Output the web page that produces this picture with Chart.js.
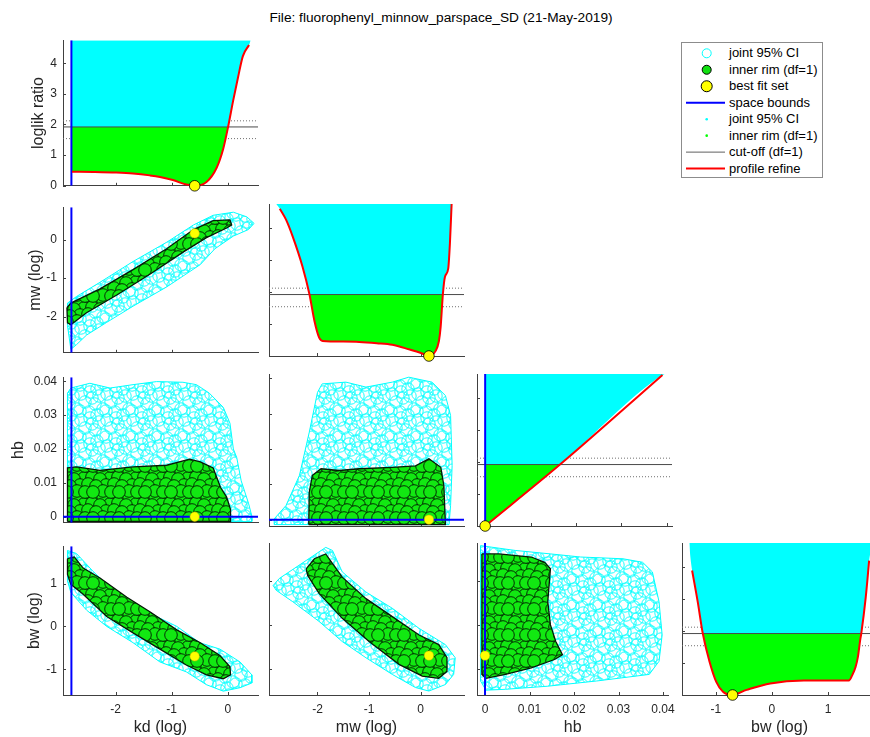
<!DOCTYPE html>
<html><head><meta charset="utf-8">
<script src="https://cdn.jsdelivr.net/npm/chart.js@4.4.1/dist/chart.umd.min.js"></script>
<style>
html,body{margin:0;padding:0;background:#fff;width:870px;height:737px;overflow:hidden;position:relative;font-family:'Liberation Sans',Arial,Helvetica,sans-serif}
canvas.p{position:absolute}
#title{position:absolute;top:10px;left:0;width:882px;text-align:center;font-size:13.7px;line-height:16px;color:#000;white-space:nowrap}
#legend{position:absolute;left:681px;top:42px;width:140px;height:134px;border:1px solid #8c8c8c;background:#fff}
.li{position:absolute;left:47px;font-size:13px;line-height:16px;color:#000;white-space:nowrap}
</style></head><body>
<div id="title"></div>
<div id="legend"><svg id="legsvg" width="140" height="134" style="position:absolute;left:0;top:0"></svg></div>
<script>
// ---------------- data ----------------
const chartTitle = 'File: fluorophenyl_minnow_parspace_SD (21-May-2019)';
const paramNames = ['kd', 'mw', 'hb', 'bw'];
const axisTitles = ['kd (log)', 'mw (log)', 'hb', 'bw (log)'];
const diagTitle = 'loglik ratio';
const paramMin = [-2.94, -2.94, -0.0018, -1.60];
const paramMax = [0.54, 0.84, 0.0412, 1.87];
const paramTicks = [[-2, -1, 0], [-2, -1, 0], [0, 0.01, 0.02, 0.03, 0.04], [-1, 0, 1]];
const bestFit = [-0.59, 0.16, 0.0, -0.70];
const bestLoglik = 0;
const lowerBound = [-2.79, null, 0.0, null];
const loglikRange = [0, 4.75];
const loglikTicks = [0, 1, 2, 3, 4];
const cutOff = 1.92;
const cutOffBand = [1.54, 2.12];
const legendLabels = ['joint 95% CI', 'inner rim (df=1)', 'best fit set', 'space bounds',
                      'joint 95% CI', 'inner rim (df=1)', 'cut-off (df=1)', 'profile refine'];

// profile-likelihood curves (x = parameter, y = loglik ratio)
const profileKd = [[-2.78,0.46],[-2.40,0.45],[-1.99,0.43],[-1.69,0.40],[-1.39,0.34],[-1.21,0.29],[-0.98,0.19],[-0.74,0.04],[-0.56,0.00],[-0.38,0.12],[-0.20,0.58],[-0.08,1.21],[0.006,1.92],[0.096,2.77],[0.185,3.55],[0.27,4.23],[0.38,4.59]];
const profileMw = [[-2.73,4.60],[-2.61,4.26],[-2.48,3.73],[-2.29,2.79],[-2.155,1.92],[-2.06,1.10],[-1.97,0.58],[-1.90,0.47],[-1.50,0.45],[-1.19,0.44],[-0.85,0.40],[-0.55,0.35],[-0.23,0.21],[0.03,0.08],[0.16,0.00],[0.29,0.16],[0.354,0.47],[0.387,0.90],[0.43,1.92],[0.47,2.47],[0.534,2.73],[0.567,3.52],[0.60,4.75]];
const profileHb = [[0,0],[0.0165,1.92],[0.0391,4.72]];
const profileBw = [[-1.42,3.89],[-1.32,2.91],[-1.23,1.92],[-1.11,1.04],[-0.99,0.41],[-0.87,0.10],[-0.72,0.00],[-0.45,0.16],[-0.03,0.36],[0.57,0.45],[1.00,0.45],[1.37,0.45],[1.43,0.62],[1.49,0.88],[1.53,1.19],[1.57,1.71],[1.59,1.92],[1.67,3.06],[1.73,4.20]];

// lower edge of the dense cyan cloud in the profile panels
const cyanEdgeKd = [[-2.79,0.46],[-2.40,0.45],[-1.99,0.43],[-1.69,0.40],[-1.39,0.34],[-1.21,0.29],[-0.98,0.19],[-0.74,0.04],[-0.56,0.00],[-0.38,0.12],[-0.20,0.58],[-0.08,1.21],[0.006,1.92],[0.096,2.77],[0.185,3.55],[0.27,4.23],[0.38,4.59],[0.41,4.75]];
const cyanEdgeMw = [[-2.80,4.75],[-2.73,4.60],[-2.61,4.26],[-2.48,3.73],[-2.29,2.79],[-2.155,1.92],[-2.06,1.10],[-1.97,0.58],[-1.90,0.47],[-1.50,0.45],[-1.19,0.44],[-0.85,0.40],[-0.55,0.35],[-0.23,0.21],[0.03,0.08],[0.16,0.00],[0.29,0.16],[0.354,0.47],[0.387,0.90],[0.43,1.92],[0.47,2.47],[0.534,2.73],[0.567,3.52],[0.60,4.75]];
const cyanEdgeHb = [[0,0],[0.0165,1.92],[0.0391,4.72],[0.0396,4.75]];
const cyanEdgeBw = [[-1.47,4.75],[-1.45,4.30],[-1.42,3.89],[-1.32,2.91],[-1.23,1.92],[-1.11,1.04],[-0.99,0.41],[-0.87,0.10],[-0.72,0.00],[-0.45,0.16],[-0.03,0.36],[0.57,0.45],[1.00,0.45],[1.37,0.45],[1.43,0.62],[1.49,0.88],[1.53,1.19],[1.57,1.71],[1.59,1.92],[1.67,3.06],[1.73,4.20],[1.80,4.75]];

// outlines of the joint 95% CI (cyan) and inner rim (green) clouds, [x, y]
const cyanMwKd = [[-2.80,-2.85],[-2.86,-2.23],[-2.86,-1.65],[-2.70,-1.48],[-2.28,-1.11],[-1.69,-0.57],[-1.09,-0.07],[-0.61,0.38],[-0.26,0.63],[0.10,0.71],[0.34,0.59],[0.47,0.42],[0.37,0.26],[0.10,0.09],[-0.23,-0.24],[-0.49,-0.65],[-1.09,-1.23],[-1.69,-1.73],[-2.16,-2.15],[-2.52,-2.48],[-2.70,-2.73]];
const greenMwKd = [[-2.87,-1.77],[-2.80,-1.65],[-2.28,-1.28],[-1.69,-0.78],[-1.09,-0.24],[-0.61,0.26],[-0.26,0.49],[0.04,0.51],[0.07,0.38],[-0.02,0.30],[-0.38,0.05],[-0.79,-0.32],[-1.39,-0.90],[-1.98,-1.44],[-2.52,-1.90],[-2.80,-2.21],[-2.86,-2.16]];
const cyanHbKd = [[-2.86,-0.0014],[-2.86,0.0365],[-2.80,0.0380],[-2.46,0.0394],[-2.10,0.0380],[-1.69,0.0390],[-1.27,0.0399],[-0.80,0.0397],[-0.56,0.0390],[-0.33,0.0365],[-0.08,0.0323],[0.04,0.0276],[0.10,0.0200],[0.16,0.0175],[0.24,0.0106],[0.37,0.0040],[0.43,0.0002],[0.43,-0.0014]];
const greenHbKd = [[-2.86,-0.0014],[-2.86,0.0144],[-2.70,0.0147],[-2.28,0.0137],[-1.69,0.0147],[-1.09,0.0152],[-0.68,0.0170],[-0.49,0.0162],[-0.26,0.0144],[-0.13,0.0087],[-0.02,0.0058],[0.05,0.0021],[0.05,-0.0014]];
const cyanBwKd = [[-2.86,1.77],[-2.70,1.70],[-2.40,1.28],[-2.04,0.83],[-1.69,0.57],[-1.27,0.23],[-0.91,0.00],[-0.50,-0.38],[-0.14,-0.53],[0.22,-0.83],[0.43,-1.13],[0.43,-1.32],[0.22,-1.43],[-0.08,-1.51],[-0.38,-1.36],[-0.74,-1.06],[-1.21,-0.83],[-1.69,-0.38],[-2.16,0.00],[-2.52,0.38],[-2.80,0.79],[-2.86,1.06]];
const greenBwKd = [[-2.86,1.58],[-2.74,1.62],[-2.58,1.36],[-2.28,1.13],[-1.80,0.68],[-1.39,0.34],[-0.91,-0.08],[-0.49,-0.38],[-0.14,-0.68],[0.04,-0.94],[0.05,-1.13],[-0.08,-1.22],[-0.38,-1.13],[-0.74,-0.90],[-1.21,-0.53],[-1.69,-0.15],[-2.16,0.23],[-2.58,0.75],[-2.80,0.98],[-2.86,1.21]];
const cyanHbMw = [[-2.84,-0.0014],[-2.84,0.0002],[-2.61,0.0040],[-2.35,0.0125],[-2.16,0.0247],[-2.00,0.0360],[-1.91,0.0384],[-1.45,0.0389],[-1.06,0.0375],[-0.55,0.0389],[-0.23,0.0403],[0.22,0.0389],[0.48,0.0351],[0.58,0.0295],[0.61,0.0153],[0.58,0.0040],[0.55,-0.0014]];
const greenHbMw = [[-2.17,-0.0014],[-2.16,0.0077],[-2.10,0.0125],[-1.93,0.0144],[-1.58,0.0139],[-1.19,0.0144],[-0.55,0.0148],[-0.10,0.0152],[0.16,0.0172],[0.39,0.0148],[0.45,0.0096],[0.48,-0.0014]];
const cyanBwMw = [[-2.86,0.90],[-2.74,1.06],[-2.22,1.47],[-1.84,1.77],[-1.71,1.70],[-1.52,1.21],[-1.06,0.75],[-0.55,0.38],[-0.03,-0.08],[0.48,-0.45],[0.67,-0.75],[0.64,-1.13],[0.48,-1.36],[0.16,-1.51],[-0.10,-1.43],[-0.55,-1.13],[-1.06,-0.75],[-1.52,-0.38],[-1.97,0.08],[-2.48,0.53],[-2.80,0.79]];
const greenBwMw = [[-2.22,1.28],[-2.06,1.51],[-1.84,1.62],[-1.75,1.47],[-1.52,1.09],[-1.06,0.60],[-0.55,0.19],[-0.03,-0.23],[0.35,-0.45],[0.51,-0.75],[0.51,-1.06],[0.35,-1.22],[0.03,-1.17],[-0.42,-0.90],[-1.00,-0.38],[-1.52,0.15],[-1.97,0.72],[-2.19,1.13]];
const cyanBwHb = [[-0.0010,1.81],[0.0068,1.70],[0.0148,1.62],[0.0215,1.55],[0.0310,1.51],[0.0354,1.43],[0.0376,1.21],[0.0391,0.53],[0.0398,-0.23],[0.0391,-0.83],[0.0369,-1.13],[0.0251,-1.28],[0.0140,-1.40],[0.0046,-1.47],[0.0002,-1.49],[-0.0010,-1.28]];
const greenBwHb = [[-0.0007,1.62],[0.0031,1.62],[0.0104,1.55],[0.0134,1.43],[0.0147,1.28],[0.0141,0.53],[0.0147,0.00],[0.0159,-0.38],[0.0174,-0.68],[0.0156,-0.79],[0.0104,-0.98],[0.0046,-1.13],[0.0002,-1.22],[-0.0007,-1.13]];

// ---------------- wiring ----------------
const profiles = [profileKd, profileMw, profileHb, profileBw];
const cyanEdges = [cyanEdgeKd, cyanEdgeMw, cyanEdgeHb, cyanEdgeBw];
const cyanClouds = [[], [cyanMwKd], [cyanHbKd, cyanHbMw], [cyanBwKd, cyanBwMw, cyanBwHb]];
const greenClouds = [[], [greenMwKd], [greenHbKd, greenHbMw], [greenBwKd, greenBwMw, greenBwHb]];

// ---------------- layout / style ----------------
const FONT = "'Liberation Sans', Arial, Helvetica, sans-serif";
Chart.defaults.font.family = FONT;
Chart.defaults.animation = false;
const colLefts = [63, 269, 477, 682];
const rowTops = [37, 204, 374, 543];
const boxW = 195, boxH = 152;
const yTitleCenters = [38.3, 35.3, 19, 35];
const AXIS = '#404040', TXT = '#262626';
const CYAN = '#00ffff', GREEN = '#00ff00', BLUE = '#0000ff', RED = '#ff0000', YELLOW = '#ffff00';

document.getElementById('title').textContent = chartTitle;

// legend
(function () {
  const svg = document.getElementById('legsvg');
  const lg = document.getElementById('legend');
  const NS = 'http://www.w3.org/2000/svg';
  const icons = [
    ['circle', {r: 4.5, fill: 'none', stroke: CYAN, 'stroke-width': 1}],
    ['circle', {r: 4.5, fill: '#10e010', stroke: '#000', 'stroke-width': 1}],
    ['circle', {r: 5.5, fill: YELLOW, stroke: '#000', 'stroke-width': 1}],
    ['line', {stroke: BLUE, 'stroke-width': 2}],
    ['circle', {r: 1.3, fill: CYAN}],
    ['circle', {r: 1.3, fill: GREEN}],
    ['line', {stroke: '#606060', 'stroke-width': 1}],
    ['line', {stroke: RED, 'stroke-width': 2}]
  ];
  legendLabels.forEach((lab, i) => {
    const cy = 10.3 + 16.47 * i;
    const [tag, attrs] = icons[i];
    const el = document.createElementNS(NS, tag);
    if (tag === 'circle') { el.setAttribute('cx', 24.7); el.setAttribute('cy', cy); }
    else { el.setAttribute('x1', 4); el.setAttribute('x2', 43); el.setAttribute('y1', cy); el.setAttribute('y2', cy); }
    for (const k in attrs) el.setAttribute(k, attrs[k]);
    svg.appendChild(el);
    const d = document.createElement('div');
    d.className = 'li'; d.style.top = (cy - 8) + 'px'; d.textContent = lab;
    lg.appendChild(d);
  });
})();

function makeTile(S, centers, r, fill, stroke, lw, bg) {
  const c = document.createElement('canvas'); c.width = c.height = S;
  const g = c.getContext('2d');
  if (bg) { g.fillStyle = bg; g.fillRect(0, 0, S, S); }
  for (const [cx, cy] of centers) {
    for (const dx of [-S, 0, S]) for (const dy of [-S, 0, S]) {
      g.beginPath(); g.arc(cx + dx, cy + dy, r, 0, Math.PI * 2);
      if (fill) { g.fillStyle = fill; g.fill(); }
      g.strokeStyle = stroke; g.lineWidth = lw; g.stroke();
    }
  }
  return c;
}
const cyanTile = makeTile(26, [[3,4],[12,2],[21,6],[7,12],[17,14],[25,19],[2,21],[11,22],[19,25],[14,8]], 6.2, null, CYAN, 0.9, null);
const greenTile = makeTile(26, [[2,3],[10,1],[18,4],[25,2],[6,10],[14,9],[22,11],[2,17],[10,16],[18,18],[25,23],[7,24],[15,24]], 6.3, '#12e812', '#000', 0.8, '#0e4e0e');

const pts = arr => arr.map(([x, y]) => ({x, y}));
const closed = arr => pts(arr.concat([arr[0]]));

// polygon fill using the element positions Chart.js computed from the data
const polyFill = {
  id: 'polyFill',
  beforeDatasetDraw(chart, args) {
    const ds = chart.data.datasets[args.index];
    if (!ds.polyFill) return;
    const {ctx, chartArea: a} = chart;
    const els = args.meta.data;
    ctx.save();
    ctx.beginPath(); ctx.rect(a.left, a.top, a.right - a.left, a.bottom - a.top); ctx.clip();
    ctx.beginPath();
    els.forEach((p, i) => i ? ctx.lineTo(p.x, p.y) : ctx.moveTo(p.x, p.y));
    ctx.closePath();
    ctx.fillStyle = ds.polyFill;
    ctx.fill();
    ctx.restore();
  }
};
// MATLAB-style inward tick marks
const inTicks = {
  id: 'inTicks',
  beforeDatasetsDraw(chart) {
    const {ctx, chartArea: a, scales: {x, y}} = chart;
    ctx.save(); ctx.strokeStyle = AXIS; ctx.lineWidth = 1; ctx.beginPath();
    for (const t of x.ticks) { const px = Math.round(x.getPixelForValue(t.value)) + 0.5; ctx.moveTo(px, a.bottom); ctx.lineTo(px, a.bottom - 3); }
    for (const t of y.ticks) { const py = Math.round(y.getPixelForValue(t.value)) + 0.5; ctx.moveTo(a.left, py); ctx.lineTo(a.left + 3, py); }
    ctx.stroke(); ctx.restore();
  }
};

const fmt = v => String(Math.round(v * 10000) / 10000);
function axisCfg(isX, min, max, ticks, showLabels, title, titlePad, size) {
  return {
    type: 'linear', position: isX ? 'bottom' : 'left', min, max,
    afterBuildTicks: s => { s.ticks = ticks.map(v => ({value: v})); },
    afterFit: s => { if (isX) s.height = size; else s.width = size; },
    grid: {display: true, drawOnChartArea: false, drawTicks: false, color: 'rgba(0,0,0,0)'},
    border: {display: true, color: AXIS, width: 1},
    ticks: {display: showLabels, autoSkip: false, maxRotation: 0, minRotation: 0, padding: isX ? 7 : 6,
            color: TXT, font: {size: 12}, callback: v => fmt(v)},
    title: {display: !!title, text: title || '', color: TXT, font: {size: 16}, padding: titlePad || 0}
  };
}
const hline = (x0, x1, y) => pts([[x0, y], [x1, y]]);
const vline = (x, y0, y1) => pts([[x, y0], [x, y1]]);

function makePanel(r, c) {
  const L = c === 0 ? colLefts[0] : 10;
  const B = r === 3 ? 737 - (rowTops[3] + boxH) : 10;
  const T = 10, R = 10;
  const cv = document.createElement('canvas');
  cv.className = 'p';
  cv.width = L + boxW + R; cv.height = T + boxH + B;
  cv.style.left = (colLefts[c] - L) + 'px'; cv.style.top = (rowTops[r] - T) + 'px';
  cv.style.width = cv.width + 'px'; cv.style.height = cv.height + 'px';
  document.body.appendChild(cv);
  const g = cv.getContext('2d');
  const datasets = [];
  const xMin = paramMin[c], xMax = paramMax[c];
  let yMin, yMax, yTicks;
  const line = (data, color, width, order, extra) => Object.assign({data, showLine: true, borderColor: color, borderWidth: width, pointRadius: 0, fill: false, order}, extra || {});
  if (r === c) {
    [yMin, yMax] = loglikRange; yTicks = loglikTicks;
    cutOffBand.forEach(v => datasets.push(line(hline(xMin, xMax, v), '#707070', 1, 20, {borderDash: [1, 2]})));
    datasets.push(line(pts(cyanEdges[c]), 'rgba(0,0,0,0)', 0, 19, {fill: 'end', backgroundColor: CYAN, cubicInterpolationMode: 'monotone'}));
    datasets.push(line(pts(profiles[c].filter(q => q[1] <= cutOff + 1e-9)), 'rgba(0,0,0,0)', 0, 18, {fill: {value: cutOff}, backgroundColor: GREEN, cubicInterpolationMode: 'monotone'}));
    datasets.push(line(hline(xMin, xMax, cutOff), '#4a4a4a', 1, 17));
    if (lowerBound[c] !== null) datasets.push(line(vline(lowerBound[c], yMin, yMax), BLUE, 2, 16));
    datasets.push(line(pts(profiles[c]), RED, 2, 15, {cubicInterpolationMode: 'monotone'}));
    datasets.push({data: pts([[bestFit[c], bestLoglik]]), showLine: false, pointRadius: 5.3, pointBackgroundColor: YELLOW, pointBorderColor: '#000', pointBorderWidth: 0.8, clip: false, order: 14});
  } else {
    yMin = paramMin[r]; yMax = paramMax[r]; yTicks = paramTicks[r];
    const cyanPat = g.createPattern(cyanTile, 'repeat');
    const greenPat = g.createPattern(greenTile, 'repeat');
    datasets.push(line(closed(cyanClouds[r][c]), CYAN, 1, 19, {polyFill: cyanPat}));
    datasets.push(line(closed(greenClouds[r][c]), '#061806', 1.3, 18, {polyFill: greenPat}));
    if (lowerBound[c] !== null) datasets.push(line(vline(lowerBound[c], yMin, yMax), BLUE, 2, 16));
    if (lowerBound[r] !== null) datasets.push(line(hline(xMin, xMax, lowerBound[r]), BLUE, 2, 16));
    datasets.push({data: pts([[bestFit[c], bestFit[r]]]), showLine: false, pointRadius: 4.7, pointBackgroundColor: YELLOW, pointBorderColor: '#c8b400', pointBorderWidth: 0.5, clip: false, order: 14});
  }
  new Chart(cv, {
    type: 'scatter',
    data: {datasets},
    plugins: [polyFill, inTicks],
    options: {
      responsive: false, devicePixelRatio: 1, animation: false, events: [],
      layout: {padding: {left: 0, top: T, right: R, bottom: 0}},
      plugins: {legend: {display: false}, tooltip: {enabled: false}},
      scales: {
        x: axisCfg(true, xMin, xMax, paramTicks[c], r === 3, r === 3 ? axisTitles[c] : '', 0, B),
        y: axisCfg(false, yMin, yMax, yTicks, c === 0, c === 0 ? (r === 0 ? diagTitle : axisTitles[r]) : '', yTitleCenters[r] - 9.6, L)
      }
    }
  });
}

for (let r = 0; r < 4; r++) for (let c = 0; c <= r; c++) makePanel(r, c);
</script>
</body></html>
